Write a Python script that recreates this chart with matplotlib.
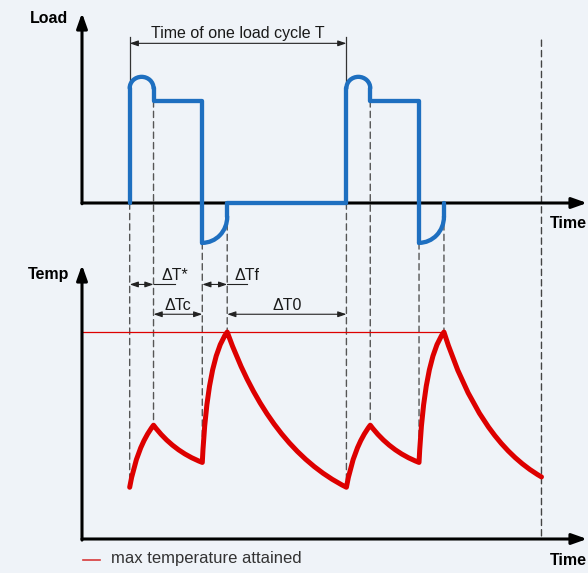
import matplotlib
matplotlib.use('Agg')
import matplotlib.pyplot as plt
from matplotlib.patches import Arc, PathPatch, ConnectionPatch
from matplotlib.path import Path

# Load cycle timing (time axis in tenths of one load cycle T)
cycle_starts = [2.2, 12.2]
dT_star = 1.1
dT_c = 2.25
dT_f = 1.15
dT_0 = 5.5
t_end = 21.2

# Load levels (step load = 1)
load_step = 1.0
load_arc_base = 1.125
load_arc_top = 1.235
load_dip = -0.39
load_dip_return = -0.135

# Temperature at the switching instants (max attained = 100)
temp_values = [25, 55, 37, 100, 25, 55, 37, 100, 30]
temp_max = 100

# curve bend per temperature segment (fraction along t, fraction of change)
bends = [(0.3, 0.65), (0.4, 0.7), (0.2, 0.8), (0.35, 0.75),
         (0.3, 0.65), (0.4, 0.7), (0.2, 0.8), (0.35, 0.75)]

bg = '#eff3f8'
blue = '#1e6fc0'
red = '#dd0000'
W, H = 588, 573

plt.rcParams['font.family'] = ['Liberation Sans', 'DejaVu Sans']

fig = plt.figure(figsize=(W / 100, H / 100), dpi=100, facecolor=bg)


def box(left, top, right, bottom):
    return [left / W, 1 - bottom / H, (right - left) / W, (bottom - top) / H]


ax_load = fig.add_axes(box(82, 13, 587, 203))
ax_temp = fig.add_axes(box(82, 265, 587, 539))
ax_load.set_xlim(0, 23.3)
ax_load.set_ylim(0, 1.86)
ax_temp.set_xlim(0, 23.3)
ax_temp.set_ylim(0, 132.4)
for ax in (ax_load, ax_temp):
    ax.set_axis_off()
    ax.set_facecolor('none')
    head = dict(arrowstyle='-|>,head_length=0.9,head_width=0.32', mutation_scale=10,
                lw=2.2, color='black', shrinkA=0, shrinkB=0)
    ax.annotate('', xy=(1, 0), xytext=(0, 0), xycoords='axes fraction',
                arrowprops=head, annotation_clip=False)
    ax.annotate('', xy=(0, 1), xytext=(0, -0.004), xycoords='axes fraction',
                arrowprops=head, annotation_clip=False)

# key instants of each cycle
times = []
for s in cycle_starts:
    a = s + dT_star
    c = a + dT_c
    f = c + dT_f
    times += [s, a, c, f]
times.append(t_end)

# load curve
for i, s in enumerate(cycle_starts):
    a = s + dT_star
    c = a + dT_c
    f = c + dT_f
    style = dict(color=blue, lw=3.1, solid_capstyle='round', solid_joinstyle='round', zorder=3)
    ax_load.plot([s, s], [0, load_arc_base], clip_on=False, **style)
    ax_load.plot([a, a, c, c], [load_arc_base, load_step, load_step, load_dip], clip_on=False, **style)
    tail_t = [f, f]
    tail_y = [load_dip_return, 0]
    if i + 1 < len(cycle_starts):
        tail_t.append(cycle_starts[i + 1])
        tail_y.append(0)
    ax_load.plot(tail_t, tail_y, clip_on=False, **style)
    ax_load.add_patch(Arc((s + dT_star / 2, load_arc_base), dT_star, 2 * (load_arc_top - load_arc_base),
                          theta1=0, theta2=180, color=blue, lw=3.1, capstyle='round',
                          clip_on=False, zorder=3))
    ax_load.add_patch(Arc((c, load_dip_return), 2 * dT_f, 2 * (load_dip_return - load_dip),
                          theta1=270, theta2=360, color=blue, lw=3.1, capstyle='round',
                          clip_on=False, zorder=3))

# temperature curve
verts = [(times[0], temp_values[0])]
codes = [Path.MOVETO]
for i in range(len(times) - 1):
    ta, ya = times[i], temp_values[i]
    tb, yb = times[i + 1], temp_values[i + 1]
    cu, cv = bends[i]
    verts += [(ta + cu * (tb - ta), ya + cv * (yb - ya)), (tb, yb)]
    codes += [Path.CURVE3, Path.CURVE3]
ax_temp.add_patch(PathPatch(Path(verts, codes), fill=False, edgecolor=red, lw=3.6,
                            capstyle='round', joinstyle='round', clip_on=False, zorder=3))

# max temperature line
ax_temp.plot([0, times[7]], [temp_max, temp_max], color=red, lw=0.9, zorder=2)

# dashed guide lines from load to temperature
load_at = [0, load_step, load_dip, 0] * len(cycle_starts)
for t, yl, yt in zip(times[:-1], load_at, temp_values[:-1]):
    fig.add_artist(ConnectionPatch(xyA=(t, yl), coordsA=ax_load.transData,
                                   xyB=(t, yt), coordsB=ax_temp.transData,
                                   ls=(0, (4.5, 3)), lw=1.0, color='#555555', zorder=-1))
fig.add_artist(ConnectionPatch(xyA=(t_end, 1.595), coordsA=ax_load.transData,
                               xyB=(t_end, 0), coordsB=ax_temp.transData,
                               ls=(0, (4.5, 3)), lw=1.0, color='#444444', zorder=-1))

# dimension arrows
dim = dict(arrowstyle='<|-|>,head_length=0.5,head_width=0.17', mutation_scale=10,
           lw=0.8, color='#222222', shrinkA=0, shrinkB=0)
s1 = cycle_starts[0]
a1 = s1 + dT_star
c1 = a1 + dT_c
f1 = c1 + dT_f
s2 = cycle_starts[1]

ax_load.plot([s1, s1], [1.624, load_arc_base], color='#333333', lw=0.9, zorder=2)
ax_load.plot([s2, s2], [1.624, load_arc_base], color='#333333', lw=0.9, zorder=2)
ax_load.annotate('', xy=(s2, 1.563), xytext=(s1, 1.563), arrowprops=dim, annotation_clip=False)
ax_load.text((s1 + s2) / 2, 1.611, 'Time of one load cycle T', ha='center', va='baseline',
             fontsize=11.5, color='#1a1a1a')

row1, row2 = 123.0, 108.6
ax_temp.annotate('', xy=(a1, row1), xytext=(s1, row1), arrowprops=dim, annotation_clip=False)
ax_temp.plot([a1, a1 + 0.97], [row1, row1], color='#222222', lw=0.8, clip_on=False)
ax_temp.text(a1 + 0.37, 125.1, 'ΔT*', ha='left', va='baseline', fontsize=11.5, color='#1a1a1a')

ax_temp.annotate('', xy=(f1, row1), xytext=(c1, row1), arrowprops=dim, annotation_clip=False)
ax_temp.plot([f1, f1 + 0.9], [row1, row1], color='#222222', lw=0.8, clip_on=False)
ax_temp.text(f1 + 0.32, 125.1, 'ΔTf', ha='left', va='baseline', fontsize=11.5, color='#1a1a1a')

ax_temp.annotate('', xy=(c1, row2), xytext=(a1, row2), arrowprops=dim, annotation_clip=False)
ax_temp.text((a1 + c1) / 2, 110.6, 'ΔTc', ha='center', va='baseline', fontsize=11.5, color='#1a1a1a')

ax_temp.annotate('', xy=(s2, row2), xytext=(f1, row2), arrowprops=dim, annotation_clip=False)
ax_temp.text((f1 + s2) / 2, 110.6, 'ΔT0', ha='center', va='baseline', fontsize=11.5, color='#1a1a1a')

# axis labels
ax_load.text(-0.645, 1.764, 'Load', ha='right', va='baseline', fontsize=11.5, fontweight='bold')
ax_temp.text(-0.6, 125.5, 'Temp', ha='right', va='baseline', fontsize=11.5, fontweight='bold')
ax_load.text(21.6, -0.248, 'Time', ha='left', va='baseline', fontsize=11.5, fontweight='bold')
ax_temp.text(21.6, -12.6, 'Time', ha='left', va='baseline', fontsize=11.5, fontweight='bold')

# legend
ax_temp.plot([0.05, 0.83], [-10.1, -10.1], color='#d83a3a', lw=1.2, clip_on=False)
ax_temp.text(1.32, -11.7, 'max temperature attained', ha='left', va='baseline',
             fontsize=12, color='#333333')

fig.savefig('out.png', dpi=100, facecolor=bg)
